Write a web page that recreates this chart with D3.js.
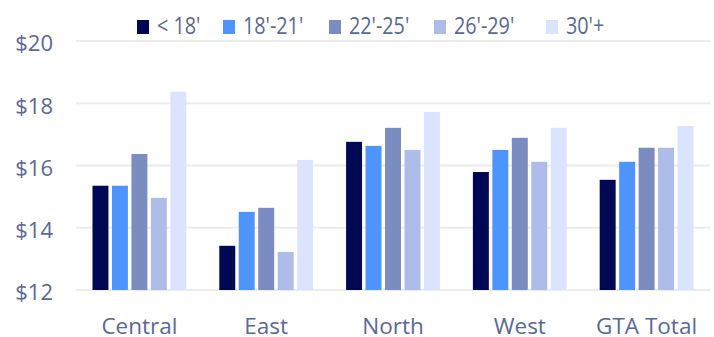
<!DOCTYPE html>
<html>
<head>
<meta charset="utf-8">
<script src="https://cdn.jsdelivr.net/npm/d3@7"></script>
<style>
  body { margin: 0; background: #fff; }
  text { font-family: "Open Sans", sans-serif; fill: #5a6896; }
</style>
</head>
<body>
<script>
// regions along the x axis
var regions = ["Central", "East", "North", "West", "GTA Total"];
// ceiling height groups
var groups = ["< 18'", "18'-21'", "22'-25'", "26'-29'", "30'+"];
var colors = ["#000854", "#4d94ff", "#7b8cc0", "#adbce8", "#dbe4fe"];

// values per group, in region order
var under18 = [15.35, 13.42, 16.76, 15.79, 15.54];
var from18 = [15.35, 14.51, 16.63, 16.50, 16.12];
var from22 = [16.37, 14.64, 17.21, 16.89, 16.57];
var from26 = [14.96, 13.22, 16.50, 16.12, 16.57];
var over30 = [18.37, 16.18, 17.72, 17.21, 17.27];
var yTicks = [12, 14, 16, 18, 20];

var series = [under18, from18, from22, from26, over30];

var width = 714, height = 337;
var margin = {top: 41, right: 4, bottom: 47, left: 76};

var svg = d3.select("body")
            .append("svg")
            .attr("width", width)
            .attr("height", height);

var x0 = d3.scaleBand()
           .domain(regions)
           .range([margin.left, width - margin.right])
           .paddingInner(0.26)
           .paddingOuter(0.13);

var x1 = d3.scaleBand()
           .domain(groups)
           .range([0, x0.bandwidth()])
           .paddingInner(0.18);

var y = d3.scaleLinear()
          .domain([12, 20])
          .range([height - margin.bottom, margin.top]);

// gridlines
svg.append("g")
   .selectAll("line")
   .data(yTicks)
   .enter()
   .append("line")
     .attr("x1", margin.left)
     .attr("x2", width - margin.right)
     .attr("y1", d => y(d))
     .attr("y2", d => y(d))
     .attr("stroke", "#ececec")
     .attr("stroke-width", 2);

// y axis labels
var yAxis = d3.axisLeft(y).tickValues(yTicks).tickFormat(d => "$" + d).tickSize(0).tickPadding(0);
svg.append("g")
   .attr("transform", "translate(53,0)")
   .call(yAxis)
   .call(g => g.select(".domain").remove())
   .selectAll("text")
     .attr("font-size", 22)
     .attr("font-family", null)
     .attr("fill", null)
     .attr("dy", "0.45em");

// bars
var table = [];
regions.forEach(function(r, i) {
  groups.forEach(function(g, j) {
    table.push({region: r, group: g, value: series[j][i], color: colors[j]});
  });
});

svg.append("g")
   .selectAll("rect")
   .data(table)
   .enter()
   .append("rect")
     .attr("x", d => x0(d.region) + x1(d.group))
     .attr("width", x1.bandwidth())
     .attr("y", d => y(d.value))
     .attr("height", d => y(12) - y(d.value))
     .attr("fill", d => d.color);

// x axis labels
var xAxis = d3.axisBottom(x0).tickSize(0).tickPadding(0);
svg.append("g")
   .attr("transform", "translate(0," + (height - 3) + ")")
   .call(xAxis)
   .call(g => g.select(".domain").remove())
   .selectAll("text")
     .attr("font-size", 22.5)
     .attr("font-family", null)
     .attr("fill", null)
     .attr("dy", null);

// legend (condensed text)
var legendX = [137, 223, 329, 434, 546];
var legend = svg.append("g");
groups.forEach(function(g, i) {
  legend.append("rect")
        .attr("x", legendX[i])
        .attr("y", 20)
        .attr("width", 12)
        .attr("height", 14)
        .attr("fill", colors[i]);
  legend.append("text")
        .attr("transform", "translate(" + (legendX[i] + 20) + ",34) scale(0.86,1)")
        .attr("font-size", 23)
        .text(g);
});
</script>
</body>
</html>
